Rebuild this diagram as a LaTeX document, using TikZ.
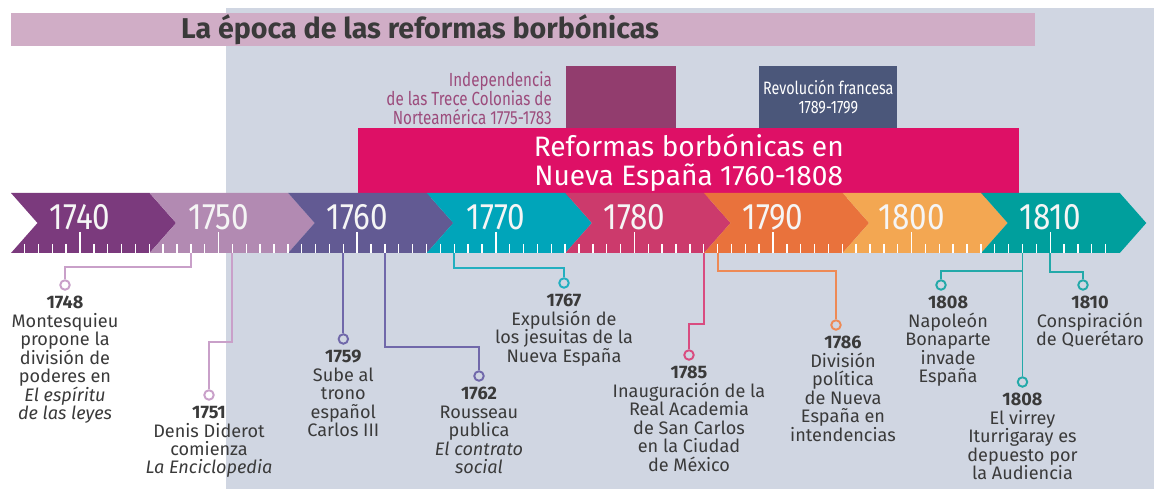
\documentclass[tikz,border=0pt]{standalone}
\usepackage{fontspec}
\setmainfont{Fira Sans}
\newfontfamily\condfont[FakeStretch=0.8]{Fira Sans}
\newfontfamily\yearfont[FakeStretch=0.85]{Fira Sans}
\usepackage{tikz}
\usetikzlibrary{positioning}

\definecolor{fondo}{HTML}{D0D6E2}
\definecolor{titulo}{HTML}{D0ADC6}
\definecolor{texto}{HTML}{3A3A3A}
\definecolor{rosa}{HTML}{DE1066}
\definecolor{ciruela}{HTML}{923D6E}
\definecolor{malva}{HTML}{9C4C7C}
\definecolor{pizarra}{HTML}{4B577A}
\definecolor{segA}{HTML}{7B3A7D}
\definecolor{segB}{HTML}{B28AB2}
\definecolor{segC}{HTML}{625A93}
\definecolor{segD}{HTML}{00A5BA}
\definecolor{segE}{HTML}{CC3A6C}
\definecolor{segF}{HTML}{E9723C}
\definecolor{segG}{HTML}{F3A752}
\definecolor{segH}{HTML}{009F9D}
\definecolor{lila}{HTML}{C9A0C9}
\definecolor{violeta}{HTML}{7068AA}
\definecolor{cian}{HTML}{22AFC0}
\definecolor{frambuesa}{HTML}{D94C80}
\definecolor{naranja}{HTML}{EE8A55}
\definecolor{turquesa}{HTML}{23A9A9}

\newcommand{\xanio}[1]{80+13.86*(#1-1740)}

\begin{document}
\begin{tikzpicture}[x=0.02cm,y=-0.02cm,
            conector/.style = {line width=1.1pt},
            punto/.style = {circle, draw, line width=1.1pt,
                        inner sep=0pt, minimum size=0.19cm},
            evento/.style = {align=center, inner sep=0pt, text=texto,
                        font=\fontsize{10.3}{10.5}\selectfont},
            anio/.style = {text=white!92!gray,
                        font=\yearfont\fontsize{21}{22}\selectfont}]
            % Background
            \fill[white] (0,0) rectangle (1154,489);
            \fill[fondo] (226,8) rectangle (1154,489);
            \useasboundingbox (0,0) rectangle (1154,489);
            % Title
            \fill[titulo] (11,13) rectangle (1035,46);
            \node[anchor=west, text=texto,
                font=\bfseries\fontsize{16.3}{16}\selectfont] (tit) at (175,30)
                {La época de las reformas borbónicas};
            % Periods above the line
            \node[fill=ciruela, minimum width=2.2cm, minimum height=1.24cm,
                anchor=north west] (indep) at (566,66) {};
            \node[anchor=east, align=right, text=malva,
                font=\condfont\fontsize{10.8}{10.8}\selectfont] (tindep) at (558,98)
                {Independencia\\de las Trece Colonias de\\Norteamérica 1775-1783};
            \node[fill=pizarra, text=white, align=center, inner sep=0pt,
                minimum width=2.76cm, minimum height=1.24cm, anchor=north west,
                font=\condfont\fontsize{10.2}{10.8}\selectfont] (revol) at (759,66)
                {Revolución francesa\\1789-1799};
            \node[fill=rosa, text=white, align=center,
                minimum width=13.22cm, minimum height=1.26cm, anchor=north west,
                font=\fontsize{16}{16.5}\selectfont] (reformas) at (358,128)
                {Reformas borbónicas en\\Nueva España 1760-1808};
            % Time line
            \foreach \c [count=\i from 0] in {segA,segB,segC,segD,segE,segF,segG,segH}
                \fill[\c] ({11+138.6*\i},193) -- ++(138.6,0) -- ++(26.5,30)
                    -- ++(-26.5,30) -- ++(-138.6,0) -- ++(26.5,-30) -- cycle;
            \foreach \a in {1736,...,1814}
                \draw[white, line width=0.8pt] ({\xanio{\a}},244) -- ++(0,9);
            \foreach \a in {1740,1750,...,1810} {
                \draw[white, line width=0.8pt] ({\xanio{\a}},232) -- ++(0,21);
                \node[anio] (a\a) at ({\xanio{\a}},217) {\a};
            }
            % Events
            \foreach \a/\n in {1748/1748,1751/1751,1759/1759,1762/1762,1767/1767,
                    1785/1785,1786/1786,1808/1808,1810/1810}
                \coordinate (t\n) at ({\xanio{\a}},253);
            \node[punto, lila] (c1748) at (65,285) {};
            \node[punto, lila] (c1751) at (209,395) {};
            \node[punto, violeta] (c1759) at ({\xanio{1759}},339) {};
            \node[punto, violeta] (c1762) at (479,376) {};
            \node[punto, cian] (c1767) at (564,283) {};
            \node[punto, frambuesa] (c1785) at (689,355) {};
            \node[punto, naranja] (c1786) at (836,325) {};
            \node[punto, turquesa] (c1808a) at (941,285) {};
            \node[punto, turquesa] (c1808b) at ({\xanio{1808}},382) {};
            \node[punto, turquesa] (c1810) at (1083,285) {};
            \draw[conector, lila] (t1748) -- ++(0,14) -| (c1748);
            \draw[conector, lila] (t1751) -- ++(0,89) -| (c1751);
            \draw[conector, violeta] (t1759) -- (c1759);
            \draw[conector, violeta] (t1762) -- ++(0,94) -| (c1762);
            \draw[conector, cian] (t1767) -- ++(0,15) -| (c1767);
            \draw[conector, frambuesa] (t1785) -- ++(0,71) -| (c1785);
            \draw[conector, naranja] (t1786) -- ++(0,18) -| (c1786);
            \draw[conector, turquesa] (t1808) -- ++(0,18) -| (c1808a);
            \draw[conector, turquesa] (t1808) -- (c1808b);
            \draw[conector, turquesa] (t1810) -- ++(0,19) -| (c1810);
            % Event texts
            \node[evento, below=3pt of c1748] (e1748)
                {\textbf{1748}\\Montesquieu\\propone la\\división de\\poderes en\\
                \textit{El espíritu}\\\textit{de las leyes}};
            \node[evento, below=3pt of c1751] (e1751)
                {\textbf{1751}\\Denis Diderot\\comienza\\\textit{La Enciclopedia}};
            \node[evento, below=3pt of c1759] (e1759)
                {\textbf{1759}\\Sube al\\trono\\español\\Carlos III};
            \node[evento, below=3pt of c1762] (e1762)
                {\textbf{1762}\\Rousseau\\publica\\\textit{El contrato}\\\textit{social}};
            \node[evento, below=3pt of c1767] (e1767)
                {\textbf{1767}\\Expulsión de\\los jesuitas de la\\Nueva España};
            \node[evento, below=3pt of c1785] (e1785)
                {\textbf{1785}\\Inauguración de la\\Real Academia\\de San Carlos\\
                en la Ciudad\\de México};
            \node[evento, below=3pt of c1786, xshift=4pt] (e1786)
                {\textbf{1786}\\División\\política\\de Nueva\\España en\\intendencias};
            \node[evento, below=3pt of c1808a, xshift=4pt] (e1808a)
                {\textbf{1808}\\Napoleón\\Bonaparte\\invade\\España};
            \node[evento, below=3pt of c1808b] (e1808b)
                {\textbf{1808}\\El virrey\\Iturrigaray es\\depuesto por\\la Audiencia};
            \node[evento, below=3pt of c1810, xshift=4pt] (e1810)
                {\textbf{1810}\\Conspiración\\de Querétaro};
        \end{tikzpicture}
\end{document}
